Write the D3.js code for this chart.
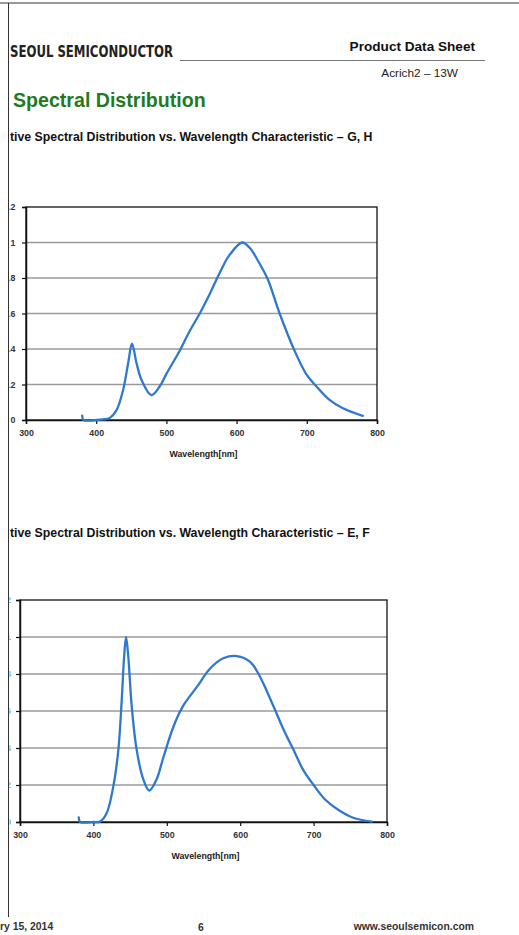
<!DOCTYPE html>
<html>
<head>
<meta charset="utf-8">
<script src="https://cdn.jsdelivr.net/npm/d3@7"></script>
<style>
  body { margin: 0; background: #fff; }
  svg { display: block; }
</style>
</head>
<body>
<svg width="519" height="935"></svg>
<script>
// wavelength [nm] and relative intensity
const ghWave  = [380, 382, 400, 410, 419.5, 429, 438.4, 445.5, 451, 457.5, 464.6, 478.8, 490.6, 500, 519, 533, 547.5, 561.7, 576, 590, 608, 618.6, 632.9, 644.7, 661.3, 682.6, 699, 713.5, 732.4, 751.4, 779.8];
const ghValue = [0.025, 0, 0, 0.003, 0.012, 0.056, 0.17, 0.32, 0.43, 0.32, 0.225, 0.14, 0.19, 0.26, 0.39, 0.5, 0.6, 0.71, 0.83, 0.93, 1.0, 0.97, 0.88, 0.79, 0.6, 0.39, 0.26, 0.19, 0.113, 0.066, 0.023];

const efWave  = [380, 382, 400, 409, 418, 427, 434, 438.6, 441.8, 444.5, 447.6, 452.3, 459, 468, 476, 486, 495.4, 509, 522.6, 541, 559, 577, 595.4, 613.6, 625, 636, 647.6, 659, 672.6, 686, 700, 716, 734, 754, 779.5];
const efValue = [0.025, 0, 0, 0.002, 0.047, 0.19, 0.39, 0.66, 0.89, 1.0, 0.89, 0.62, 0.39, 0.23, 0.17, 0.23, 0.35, 0.515, 0.63, 0.73, 0.83, 0.885, 0.897, 0.866, 0.8, 0.71, 0.605, 0.5, 0.39, 0.28, 0.2, 0.12, 0.065, 0.023, 0.002];

const xTicks = [300, 400, 500, 600, 700, 800];
const yTicks = [0, 0.2, 0.4, 0.6, 0.8, 1.0, 1.2];

const svg = d3.select("svg");
const BLUE = "#2f78d0";
const FONT = "'Liberation Sans', Arial, sans-serif";

// page frame
svg.append("line").attr("x1", 0).attr("x2", 519).attr("y1", 3).attr("y2", 3)
    .attr("stroke", "#333").attr("stroke-width", 1);
svg.append("line").attr("x1", 8.5).attr("x2", 8.5).attr("y1", 3).attr("y2", 917)
    .attr("stroke", "#333").attr("stroke-width", 1);

// clip for the page's left edge (labels that run off the page)
svg.append("clipPath").attr("id", "page")
  .append("rect").attr("x", 9.5).attr("y", 0).attr("width", 510).attr("height", 935);

// header
svg.append("text").attr("x", 10).attr("y", 57)
    .attr("font-family", "'Liberation Sans Narrow', 'DejaVu Sans Condensed', sans-serif")
    .attr("font-weight", "bold").attr("font-size", 15.5).attr("fill", "#222")
    .attr("textLength", 163).attr("lengthAdjust", "spacingAndGlyphs")
    .text("SEOUL SEMICONDUCTOR");
svg.append("line").attr("x1", 180).attr("x2", 485).attr("y1", 60.5).attr("y2", 60.5)
    .attr("stroke", "#555").attr("stroke-width", 0.8);
svg.append("text").attr("x", 475).attr("y", 51).attr("text-anchor", "end")
    .attr("font-family", FONT)
    .attr("font-weight", "bold").attr("font-size", 13.6).attr("fill", "#111")
    .text("Product Data Sheet");
svg.append("text").attr("x", 458).attr("y", 77).attr("text-anchor", "end")
    .attr("font-family", FONT)
    .attr("font-size", 11.8).attr("fill", "#222")
    .text("Acrich2 \u2013 13W");
svg.append("text").attr("x", 13).attr("y", 107)
    .attr("font-family", FONT)
    .attr("font-weight", "bold").attr("font-size", 19.6).attr("fill", "#1f7a22")
    .text("Spectral Distribution");

function subtitle(y, txt) {
  svg.append("text").attr("x", 10).attr("y", y)
    .attr("font-family", FONT)
    .attr("font-weight", "bold").attr("font-size", 12.3).attr("fill", "#111")
    .text(txt);
}
subtitle(141, "tive Spectral Distribution vs. Wavelength Characteristic \u2013 G, H");
subtitle(537, "tive Spectral Distribution vs. Wavelength Characteristic \u2013 E, F");

function drawChart(box, wave, value, yLabelEnd, yLabelColor) {
  const x = d3.scaleLinear().domain([300, 800]).range([box.left, box.right]);
  const y = d3.scaleLinear().domain([0, 1.2]).range([box.bottom, box.top]);
  const g = svg.append("g");

  // gridlines
  g.append("g").selectAll("line")
    .data(yTicks.filter(d => d > 0 && d < 1.2))
    .join("line")
    .attr("x1", box.left).attr("x2", box.right)
    .attr("y1", d => y(d)).attr("y2", d => y(d))
    .attr("stroke", "#9a9a9a").attr("stroke-width", 1.5);

  // frame
  g.append("rect")
    .attr("x", box.left).attr("y", box.top)
    .attr("width", box.right - box.left).attr("height", box.bottom - box.top)
    .attr("fill", "none").attr("stroke", "#111").attr("stroke-width", 1.3);

  // x axis
  const xAxis = g.append("g").attr("transform", `translate(0,${box.bottom})`)
    .call(d3.axisBottom(x).tickValues(xTicks).tickSize(4).tickPadding(6).tickFormat(d3.format("d")));
  xAxis.select(".domain").attr("stroke", "#111").attr("stroke-width", 1.5);
  xAxis.selectAll(".tick line").attr("stroke", "#111").attr("stroke-width", 1.2);
  xAxis.selectAll(".tick text")
    .attr("font-family", FONT)
    .attr("font-size", 8.8).attr("font-weight", "bold").attr("fill", "#333");

  // y axis ticks
  const yAxis = g.append("g").attr("transform", `translate(${box.left},0)`)
    .call(d3.axisLeft(y).tickValues(yTicks).tickSize(4).tickFormat(""));
  yAxis.select(".domain").attr("stroke", "#111").attr("stroke-width", 1.5);
  yAxis.selectAll(".tick line").attr("stroke", "#111").attr("stroke-width", 1.2);

  // y labels run off the left page edge
  g.append("g").attr("clip-path", "url(#page)")
    .selectAll("text").data(yTicks).join("text")
    .attr("x", yLabelEnd).attr("y", d => y(d)).attr("dy", "0.35em")
    .attr("text-anchor", "end")
    .attr("font-family", FONT)
    .attr("font-size", 8.8).attr("font-weight", "bold").attr("fill", yLabelColor)
    .text(d => d === 0 ? "0" : d === 1 ? "1" : d3.format(".1f")(d));

  g.append("text")
    .attr("x", (box.left + box.right) / 2 + 2).attr("y", box.bottom + 37)
    .attr("text-anchor", "middle")
    .attr("font-family", FONT)
    .attr("font-size", 8.8).attr("font-weight", "bold").attr("fill", "#222")
    .text("Wavelength[nm]");

  const pts = wave.map((w, i) => [w, value[i]]);
  const line = d3.line().x(d => x(d[0])).y(d => y(Math.max(0, d[1])))
    .curve(d3.curveCatmullRom.alpha(0.5));
  g.append("path").datum(pts)
    .attr("d", line)
    .attr("fill", "none").attr("stroke", BLUE).attr("stroke-width", 2.3)
    .attr("stroke-linejoin", "round").attr("stroke-linecap", "round");
}

drawChart({left: 26, right: 377, top: 207, bottom: 420}, ghWave, ghValue, 15.5, "#333");
drawChart({left: 20, right: 387, top: 600, bottom: 822}, efWave, efValue, 11, "#4a90e0");

// footer
const foot = svg.append("g")
    .attr("font-family", FONT)
    .attr("font-size", 10.4).attr("font-weight", "bold").attr("fill", "#333");
foot.append("text").attr("x", 0).attr("y", 930).text("ry 15, 2014");
foot.append("text").attr("x", 201).attr("y", 931).attr("text-anchor", "middle").text("6");
foot.append("text").attr("x", 474).attr("y", 930).attr("text-anchor", "end").text("www.seoulsemicon.com");
</script>
</body>
</html>
